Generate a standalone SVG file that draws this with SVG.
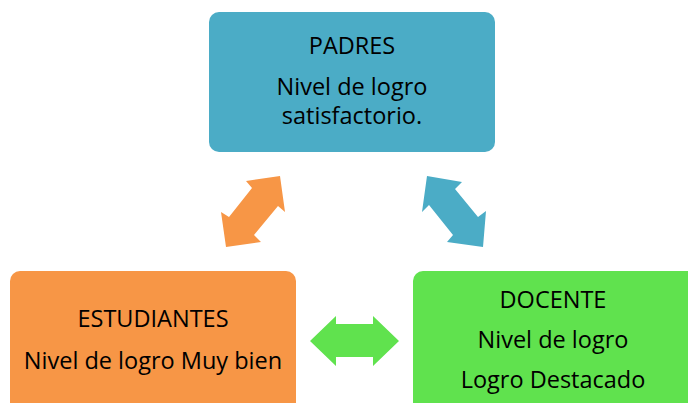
<svg xmlns="http://www.w3.org/2000/svg" width="688" height="403" viewBox="0 0 688 403">
<style>
text{font-family:"Open Sans","Liberation Sans",sans-serif;font-size:23.5px;fill:#000;text-anchor:middle}
</style>
<rect width="688" height="403" fill="#fff"/>
<g id="padres">
<rect x="209" y="12" width="286" height="140" rx="10" fill="#4BACC6"/>
<text x="352" y="54">PADRES</text>
<text x="352" y="95">Nivel de logro</text>
<text x="352" y="124">satisfactorio.</text>
</g>
<g id="estudiantes">
<rect x="10" y="271" width="286" height="150" rx="10" fill="#F79646"/>
<text x="153" y="327">ESTUDIANTES</text>
<text x="153" y="369">Nivel de logro Muy bien</text>
</g>
<g id="docente">
<rect x="413" y="271" width="290" height="150" rx="10" fill="#60E24E"/>
<text x="553" y="308">DOCENTE</text>
<text x="553" y="348">Nivel de logro</text>
<text x="553" y="388">Logro Destacado</text>
</g>
<g id="connectors">
<polygon fill="#F79646" points="280,176 246,181 252,188 229,217 221,212 226,247 261,242 254,235 278,206 285,212"/>
<polygon fill="#4BACC6" points="427,176 462,182 455,189 478,217 486,211 483,247 447,242 453,235 429,205 422,212"/>
<polygon fill="#60E24E" points="310,341 336,316 336,324 373,324 373,316 399,341 373,366 373,357 336,357 336,366"/>
</g>
</svg>
